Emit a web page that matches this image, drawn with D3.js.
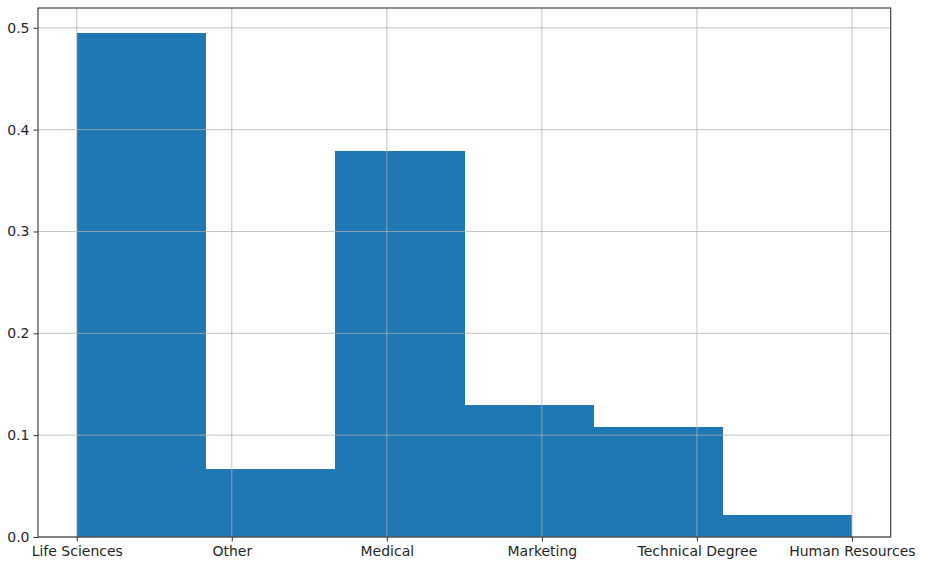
<!DOCTYPE html>
<html><head><meta charset="utf-8">
<script src="https://cdn.jsdelivr.net/npm/d3@7"></script>
<style>body{margin:0;background:#fff}svg{display:block}text{font-family:"DejaVu Sans",sans-serif}</style>
</head><body><svg id="c" width="925" height="572"></svg>
<script>
const categories = ["Life Sciences","Other","Medical","Marketing","Technical Degree","Human Resources"];
const densities = [0.4947, 0.0669, 0.3788, 0.1298, 0.1078, 0.0220];
const yTicks = [0.0, 0.1, 0.2, 0.3, 0.4, 0.5];

const svg = d3.select("#c");
const L = 38, R = 890.7, T = 8, B = 537;
const n = categories.length;
const x = d3.scaleLinear().domain([-(n-1)*0.05, (n-1)*1.05]).range([L, R]);
const y = d3.scaleLinear().domain([0, d3.max(densities)*1.05]).range([B, T]);
const binW = (n-1)/n;

svg.append("g").attr("shape-rendering","crispEdges").selectAll("rect").data(densities).join("rect")
  .attr("x", (d,i)=>x(i*binW)).attr("width", (d,i)=>x((i+1)*binW)-x(i*binW)+0.5)
  .attr("y", d=>y(d)).attr("height", d=>y(0)-y(d)).attr("fill","#1f77b4");

const grid = svg.append("g").attr("stroke","#b0b0b0").attr("stroke-opacity",0.75).attr("stroke-width",1);
categories.forEach((c,i)=>grid.append("line").attr("x1",x(i)).attr("x2",x(i)).attr("y1",T).attr("y2",B));
yTicks.forEach(t=>grid.append("line").attr("x1",L).attr("x2",R).attr("y1",y(t)).attr("y2",y(t)));

const xa = svg.append("g").attr("transform",`translate(0,${B})`)
  .call(d3.axisBottom(x).tickValues(d3.range(n)).tickFormat(i=>categories[i]).tickSize(4.5).tickPadding(5));
const ya = svg.append("g").attr("transform",`translate(${L},0)`)
  .call(d3.axisLeft(y).tickValues(yTicks).tickFormat(d3.format(".1f")).tickSize(4.5).tickPadding(4));
[xa,ya].forEach(a=>{a.select(".domain").remove();a.selectAll("text").attr("font-size",14).attr("fill","#262626").attr("font-family","DejaVu Sans");a.selectAll("line").attr("stroke","#333");});

svg.append("rect").attr("x",L).attr("y",T).attr("width",R-L).attr("height",B-T)
  .attr("fill","none").attr("stroke","#333").attr("stroke-width",1.1);
</script></body></html>
